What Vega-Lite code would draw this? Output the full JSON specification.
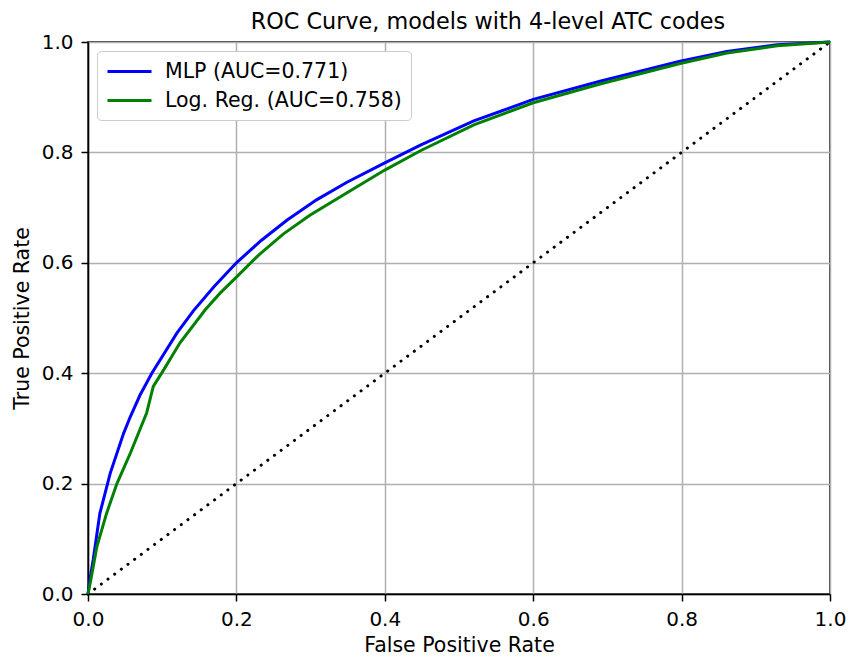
{
  "$schema": "https://vega.github.io/schema/vega-lite/v6.json",
  "autosize": {"type": "none"},
  "padding": {"left": 88, "top": 42, "right": 18, "bottom": 63},
  "width": 742,
  "height": 552,
  "config": {
    "font": "DejaVu Sans",
    "view": {"stroke": "black", "strokeWidth": 1.5},
    "axis": {
      "domainColor": "black", "domainWidth": 1.5,
      "tickColor": "black", "tickSize": 7, "tickWidth": 1.5,
      "gridColor": "#b0b0b0", "gridWidth": 1.5,
      "labelFont": "DejaVu Sans", "labelFontSize": 20, "labelColor": "black", "labelFlush": false, "labelOverlap": false,
      "titleFont": "DejaVu Sans", "titleFontSize": 20.5, "titleFontWeight": "normal", "titleColor": "black"
    }
  },
  "title": {"text": "ROC Curve, models with 4-level ATC codes", "fontSize": 22.3, "fontWeight": "normal", "font": "DejaVu Sans", "anchor": "middle", "offset": -1, "dx": 29, "color": "black"},
  "datasets": {
    "roc": [
      {"model": "MLP (AUC=0.771)", "fpr": 0, "tpr": 0},
      {"model": "MLP (AUC=0.771)", "fpr": 0.003, "tpr": 0.03},
      {"model": "MLP (AUC=0.771)", "fpr": 0.007, "tpr": 0.062},
      {"model": "MLP (AUC=0.771)", "fpr": 0.016, "tpr": 0.146},
      {"model": "MLP (AUC=0.771)", "fpr": 0.03, "tpr": 0.219},
      {"model": "MLP (AUC=0.771)", "fpr": 0.048, "tpr": 0.291},
      {"model": "MLP (AUC=0.771)", "fpr": 0.057, "tpr": 0.321},
      {"model": "MLP (AUC=0.771)", "fpr": 0.07, "tpr": 0.36},
      {"model": "MLP (AUC=0.771)", "fpr": 0.086, "tpr": 0.4},
      {"model": "MLP (AUC=0.771)", "fpr": 0.12, "tpr": 0.473},
      {"model": "MLP (AUC=0.771)", "fpr": 0.142, "tpr": 0.513},
      {"model": "MLP (AUC=0.771)", "fpr": 0.17, "tpr": 0.557},
      {"model": "MLP (AUC=0.771)", "fpr": 0.2, "tpr": 0.6},
      {"model": "MLP (AUC=0.771)", "fpr": 0.233, "tpr": 0.64},
      {"model": "MLP (AUC=0.771)", "fpr": 0.268, "tpr": 0.677},
      {"model": "MLP (AUC=0.771)", "fpr": 0.308, "tpr": 0.714},
      {"model": "MLP (AUC=0.771)", "fpr": 0.349, "tpr": 0.746},
      {"model": "MLP (AUC=0.771)", "fpr": 0.4, "tpr": 0.781},
      {"model": "MLP (AUC=0.771)", "fpr": 0.448, "tpr": 0.813},
      {"model": "MLP (AUC=0.771)", "fpr": 0.52, "tpr": 0.857},
      {"model": "MLP (AUC=0.771)", "fpr": 0.6, "tpr": 0.896},
      {"model": "MLP (AUC=0.771)", "fpr": 0.69, "tpr": 0.929},
      {"model": "MLP (AUC=0.771)", "fpr": 0.798, "tpr": 0.965},
      {"model": "MLP (AUC=0.771)", "fpr": 0.861, "tpr": 0.983},
      {"model": "MLP (AUC=0.771)", "fpr": 0.929, "tpr": 0.995},
      {"model": "MLP (AUC=0.771)", "fpr": 1, "tpr": 1},
      {"model": "Log. Reg. (AUC=0.758)", "fpr": 0, "tpr": 0},
      {"model": "Log. Reg. (AUC=0.758)", "fpr": 0.003, "tpr": 0.02},
      {"model": "Log. Reg. (AUC=0.758)", "fpr": 0.012, "tpr": 0.086},
      {"model": "Log. Reg. (AUC=0.758)", "fpr": 0.025, "tpr": 0.146},
      {"model": "Log. Reg. (AUC=0.758)", "fpr": 0.039, "tpr": 0.2},
      {"model": "Log. Reg. (AUC=0.758)", "fpr": 0.057, "tpr": 0.255},
      {"model": "Log. Reg. (AUC=0.758)", "fpr": 0.079, "tpr": 0.328},
      {"model": "Log. Reg. (AUC=0.758)", "fpr": 0.088, "tpr": 0.376},
      {"model": "Log. Reg. (AUC=0.758)", "fpr": 0.102, "tpr": 0.406},
      {"model": "Log. Reg. (AUC=0.758)", "fpr": 0.124, "tpr": 0.455},
      {"model": "Log. Reg. (AUC=0.758)", "fpr": 0.158, "tpr": 0.515},
      {"model": "Log. Reg. (AUC=0.758)", "fpr": 0.178, "tpr": 0.545},
      {"model": "Log. Reg. (AUC=0.758)", "fpr": 0.2, "tpr": 0.574},
      {"model": "Log. Reg. (AUC=0.758)", "fpr": 0.23, "tpr": 0.614},
      {"model": "Log. Reg. (AUC=0.758)", "fpr": 0.263, "tpr": 0.652},
      {"model": "Log. Reg. (AUC=0.758)", "fpr": 0.299, "tpr": 0.686},
      {"model": "Log. Reg. (AUC=0.758)", "fpr": 0.353, "tpr": 0.73},
      {"model": "Log. Reg. (AUC=0.758)", "fpr": 0.4, "tpr": 0.768},
      {"model": "Log. Reg. (AUC=0.758)", "fpr": 0.448, "tpr": 0.803},
      {"model": "Log. Reg. (AUC=0.758)", "fpr": 0.52, "tpr": 0.85},
      {"model": "Log. Reg. (AUC=0.758)", "fpr": 0.6, "tpr": 0.89},
      {"model": "Log. Reg. (AUC=0.758)", "fpr": 0.69, "tpr": 0.924},
      {"model": "Log. Reg. (AUC=0.758)", "fpr": 0.798, "tpr": 0.961},
      {"model": "Log. Reg. (AUC=0.758)", "fpr": 0.861, "tpr": 0.98},
      {"model": "Log. Reg. (AUC=0.758)", "fpr": 0.929, "tpr": 0.993},
      {"model": "Log. Reg. (AUC=0.758)", "fpr": 1, "tpr": 1}
    ],
    "diag": [{"fpr": 0, "tpr": 0}, {"fpr": 1, "tpr": 1}]
  },
  "layer": [
    {
      "data": {"name": "diag"},
      "mark": {"type": "line", "color": "black", "strokeWidth": 3, "strokeDash": [0.1, 8.2], "strokeCap": "round"},
      "encoding": {
        "x": {"field": "fpr", "type": "quantitative", "scale": {"domain": [0, 1], "nice": false, "zero": false},
              "axis": {"title": "False Positive Rate", "format": ".1f", "values": [0, 0.2, 0.4, 0.6, 0.8, 1.0], "labelPadding": 8, "titlePadding": 6}},
        "y": {"field": "tpr", "type": "quantitative", "scale": {"domain": [0, 1], "nice": false, "zero": false},
              "axis": {"title": "True Positive Rate", "format": ".1f", "values": [0, 0.2, 0.4, 0.6, 0.8, 1.0], "labelPadding": 8, "titlePadding": 9}}
      }
    },
    {
      "data": {"name": "roc"},
      "mark": {"type": "line", "strokeWidth": 3},
      "encoding": {
        "x": {"field": "fpr", "type": "quantitative"},
        "y": {"field": "tpr", "type": "quantitative"},
        "color": {
          "field": "model", "type": "nominal",
          "scale": {"domain": ["MLP (AUC=0.771)", "Log. Reg. (AUC=0.758)"], "range": ["#0000ff", "#008000"]},
          "legend": {
            "title": null, "orient": "top-left", "offset": 9,
            "symbolType": "M-1,0H3.4", "symbolSize": 400, "symbolStrokeWidth": 3,
            "labelFontSize": 20.5, "labelFont": "DejaVu Sans", "labelColor": "black", "labelOffset": 36, "labelLimit": 400,
            "rowPadding": 7, "padding": 9,
            "strokeColor": "#cccccc", "fillColor": "white", "cornerRadius": 4
          }
        }
      }
    }
  ]
}
